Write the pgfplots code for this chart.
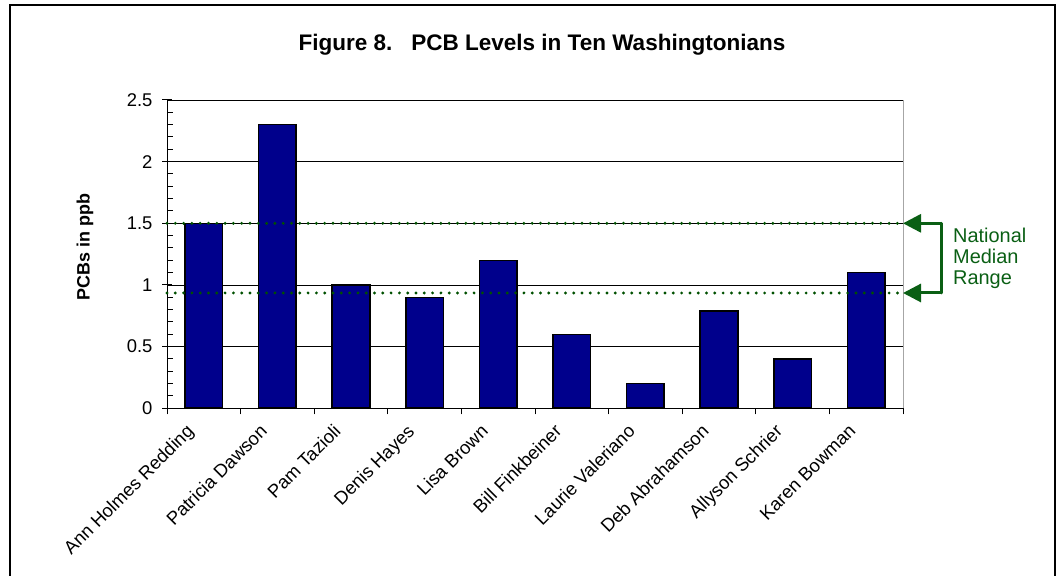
\documentclass[border=0pt]{standalone}
\usepackage{fontspec}
\setmainfont{Liberation Sans}
\usepackage{pgfplots}
\pgfplotsset{compat=1.18}
\usetikzlibrary{arrows.meta}
\definecolor{barblue}{RGB}{0,0,140}
\definecolor{dkgreen}{RGB}{10,95,20}
\definecolor{dotgreen}{RGB}{0,80,0}
\begin{document}
\begin{tikzpicture}
\useasboundingbox (0,0) rectangle (1056bp,576bp);
\draw[line width=1.5bp] (10bp,-2bp) rectangle (1055bp,571bp);
\node[anchor=base, font=\fontsize{22.6}{26}\selectfont\bfseries] at (542bp,525bp) {Figure 8.\ \ \ PCB Levels in Ten Washingtonians};
\node[rotate=90, font=\fontsize{18}{22}\selectfont\bfseries] at (85bp,329bp) {PCBs in ppb};
\begin{axis}[
  at={(167bp,167.7bp)}, anchor=south west,
  scale only axis, width=736bp, height=308.3bp,
  xmin=-0.5, xmax=9.5, ymin=0, ymax=2.5,
  axis x line*=bottom, axis y line*=left,
  axis line style={line width=1bp, black},
  clip=false,
  /pgf/number format/assume math mode=true,
  ticklabel style={font=\fontsize{18.5}{22}\selectfont},
  ytick={0,0.5,1,1.5,2,2.5},
  minor ytick={0.1,0.2,0.3,0.4,0.6,0.7,0.8,0.9,1.1,1.2,1.3,1.4,1.6,1.7,1.8,1.9,2.1,2.2,2.3,2.4},
  ymajorgrids, major grid style={black, line width=0.8bp},
  tick align=inside, major tick length=10bp, minor tick length=6bp,
  tick style={black, line width=1bp},
  major y tick style={xshift=-5bp},
  xtick={0,1,2,3,4,5,6,7,8,9},
  xticklabels={Ann Holmes Redding, Patricia Dawson, Pam Tazioli, Denis Hayes, Lisa Brown, Bill Finkbeiner, Laurie Valeriano, Deb Abrahamson, Allyson Schrier, Karen Bowman},
  major x tick style={draw=none},
  minor xtick={-0.5,0.5,1.5,2.5,3.5,4.5,5.5,6.5,7.5,8.5,9.5},
  minor x tick style={yshift=-6bp},
  xticklabel style={rotate=45, anchor=north east, inner sep=1bp, xshift=-22.4bp, yshift=3.9bp},
  yticklabel style={xshift=-11bp},
]
\addplot[ybar, bar width=0.51, fill=barblue, draw=black, line width=1.6bp] coordinates {
(0,1.5) (1,2.3) (2,1.0) (3,0.9) (4,1.2) (5,0.6) (6,0.2) (7,0.79) (8,0.4) (9,1.1)};
\addplot[dotgreen, line width=3.2bp, dash pattern=on 0pt off 8.3bp, line cap=round] coordinates {(-0.5,1.5) (9.5,1.5)};
\addplot[dotgreen, line width=3.2bp, dash pattern=on 0pt off 8.3bp, line cap=round] coordinates {(-0.5,0.935) (9.5,0.935)};
\draw[gray!70, line width=1bp] (rel axis cs:1,0) -- (rel axis cs:1,1);
\draw[dkgreen, line width=3bp, -{Triangle[length=18bp,width=18bp]}] ([xshift=38bp]axis cs:9.5,1.5) -- (axis cs:9.5,1.5);
\draw[dkgreen, line width=3bp, -{Triangle[length=18bp,width=18bp]}] ([xshift=38bp]axis cs:9.5,0.935) -- (axis cs:9.5,0.935);
\draw[dkgreen, line width=3bp, line cap=round] ([xshift=38bp]axis cs:9.5,1.5) -- ([xshift=38bp]axis cs:9.5,0.935);
\node[anchor=west, align=left, text=dkgreen, font=\fontsize{20}{21}\selectfont, inner sep=0pt] at ([xshift=50bp]axis cs:9.5,1.215) {National\\Median\\Range};
\end{axis}
\end{tikzpicture}
\end{document}
